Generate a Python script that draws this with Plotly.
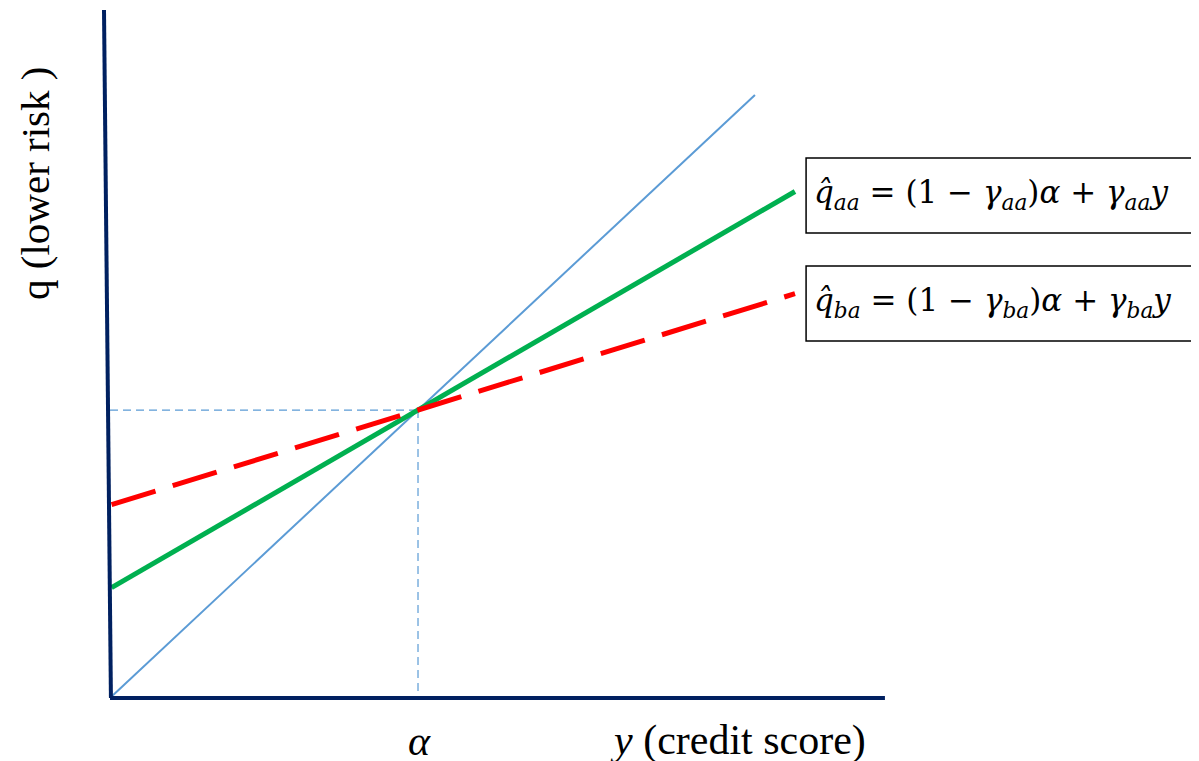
import plotly.graph_objects as go

# Data (alpha normalised to 1)
alpha = 1.0
y_max_line = 2.224
gamma_aa = 0.62
gamma_ba = 0.33
diag_end = 2.094

x_line = [0.005, y_max_line]
green_y = [(1 - gamma_aa) * alpha + gamma_aa * x for x in x_line]
red_y = [(1 - gamma_ba) * alpha + gamma_ba * x for x in x_line]

NAVY = "#002060"
BLUE = "#5B9BD5"
SERIF = "Liberation Serif"
MATH = "DejaVu Serif"

fig = go.Figure()

# reference guides
fig.add_trace(go.Scatter(x=[0, alpha], y=[alpha, alpha], mode="lines",
                         line=dict(color=BLUE, width=1.2, dash="8px,5px"), hoverinfo="skip"))
fig.add_trace(go.Scatter(x=[alpha, alpha], y=[alpha, 0], mode="lines",
                         line=dict(color=BLUE, width=1.2, dash="8px,5px"), hoverinfo="skip"))
# 45-degree line
fig.add_trace(go.Scatter(x=[0, diag_end], y=[0, diag_end], mode="lines",
                         line=dict(color=BLUE, width=2), hoverinfo="skip"))
# green line
fig.add_trace(go.Scatter(x=x_line, y=green_y, mode="lines",
                         line=dict(color="#00B050", width=5), hoverinfo="skip"))
# red dashed
fig.add_trace(go.Scatter(x=x_line, y=red_y, mode="lines",
                         line=dict(color="#FF0000", width=5, dash="46px,18px"), hoverinfo="skip"))
# axes
fig.add_trace(go.Scatter(x=[-0.0195, 0.003], y=[2.389, 0], mode="lines",
                         line=dict(color=NAVY, width=4), hoverinfo="skip"))
fig.add_trace(go.Scatter(x=[0.0, 2.516], y=[0, 0], mode="lines",
                         line=dict(color=NAVY, width=4), hoverinfo="skip"))

shapes = [
    dict(type="rect", xref="x", yref="y", x0=2.26, x1=3.529, y0=1.615, y1=1.875,
         line=dict(color="black", width=1.5), fillcolor="white"),
    dict(type="rect", xref="x", yref="y", x0=2.26, x1=3.529, y0=1.240, y1=1.500,
         line=dict(color="black", width=1.5), fillcolor="white"),
]

eq_aa = ("<i>q\u0302</i><sub><i>aa</i></sub> = (1 \u2212 <i>\u03b3</i><sub><i>aa</i></sub>)"
         "<i>\u03b1</i> + <i>\u03b3</i><sub><i>aa</i></sub><i>y</i>")
eq_ba = ("<i>q\u0302</i><sub><i>ba</i></sub> = (1 \u2212 <i>\u03b3</i><sub><i>ba</i></sub>)"
         "<i>\u03b1</i> + <i>\u03b3</i><sub><i>ba</i></sub><i>y</i>")

annotations = [
    dict(x=2.28, y=1.748, xref="x", yref="y", text=eq_aa, showarrow=False,
         xanchor="left", yanchor="middle", font=dict(family=MATH, size=31, color="black")),
    dict(x=2.28, y=1.373, xref="x", yref="y", text=eq_ba, showarrow=False,
         xanchor="left", yanchor="middle", font=dict(family=MATH, size=31, color="black")),
    dict(x=1.006, y=-0.148, xref="x", yref="y", text="<i>\u03b1</i>", showarrow=False,
         xanchor="center", yanchor="middle", font=dict(family=SERIF, size=42, color="black")),
    dict(x=2.039, y=-0.148, xref="x", yref="y", text="<i>y</i> (credit score)", showarrow=False,
         xanchor="center", yanchor="middle", font=dict(family=SERIF, size=42, color="black")),
    dict(x=-0.2435, y=1.785, xref="x", yref="y", text="q (lower risk )", showarrow=False,
         textangle=-90, xanchor="center", yanchor="middle",
         font=dict(family=SERIF, size=41, color="black")),
]

# ranges offset by the page's default 8px body margin
fig.update_layout(
    width=1199, height=761,
    margin=dict(l=0, r=0, t=0, b=0),
    paper_bgcolor="white", plot_bgcolor="white",
    showlegend=False,
    xaxis=dict(range=[-0.3312, 3.5617], visible=False, fixedrange=True),
    yaxis=dict(range=[-0.2465, 2.396], visible=False, fixedrange=True),
    shapes=shapes, annotations=annotations,
)

fig.write_html("out.html")
